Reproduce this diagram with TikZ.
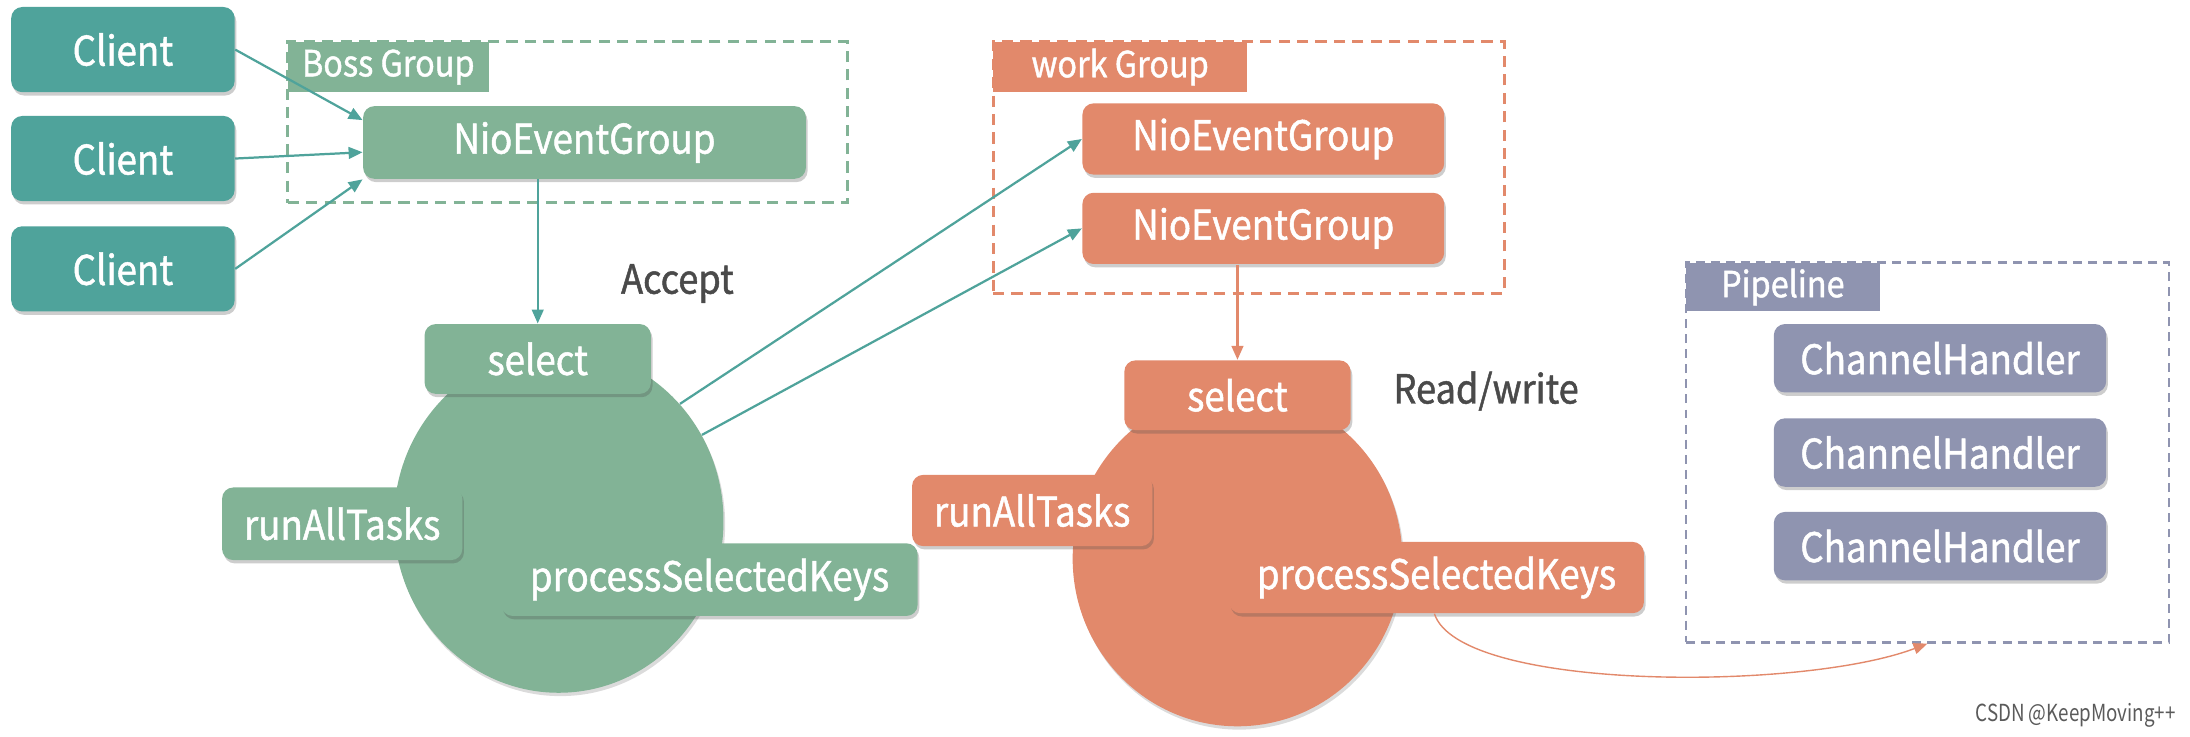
\documentclass[tikz,border=0pt]{standalone}
\usepackage{fontspec}
\setmainfont{Noto Sans CJK SC}[FakeStretch=0.9,FakeBold=1.2]
\newfontfamily\wmfont{Noto Sans CJK SC}[FakeStretch=0.8]
\usetikzlibrary{shapes.geometric,shadows,arrows.meta,calc}
\definecolor{teal1}{HTML}{4FA39B}
\definecolor{green1}{HTML}{82B396}
\definecolor{orange1}{HTML}{E2896B}
\definecolor{purple1}{HTML}{8F94B0}
\definecolor{txtgray}{HTML}{4A4A4A}
\definecolor{wmgray}{HTML}{5A5A5A}
\tikzset{
  box/.style={rounded corners=4pt, text=white, font=\fontsize{14.6}{17}\selectfont, inner sep=0pt,
    drop shadow={shadow xshift=0.6pt, shadow yshift=-1.2pt, opacity=0.28, fill=black!70}},
  tabbox/.style={text=white, font=\fontsize{12.9}{15}\selectfont, inner sep=0pt},
  grp/.style={dash pattern=on 4pt off 2.6pt, line width=1.1pt, inner sep=0pt},
  ell/.style={ellipse, inner sep=0pt, draw=none,
    drop shadow={shadow xshift=0.6pt, shadow yshift=-1.2pt, opacity=0.2, fill=black!70}},
  lbl/.style={text=txtgray, font=\fontsize{14.4}{17}\selectfont, inner sep=0pt},
  conn/.style={draw=teal1, line width=0.8pt, -{Triangle[length=5pt,width=4.2pt]}},
  oconn/.style={draw=orange1, line width=0.8pt, -{Triangle[length=5pt,width=4.2pt]}},
  cli/.style={box, fill=teal1, minimum width=80pt, minimum height=30.5pt},
  bg/.style={box, fill=green1},
  wg/.style={box, fill=orange1},
  hd/.style={box, fill=purple1, minimum width=119pt, minimum height=24.5pt}
}
\begin{document}
\begin{tikzpicture}[x=0.5pt,y=-0.5pt]
\useasboundingbox (0,0) rectangle (1568,527);
% ellipses (event loops)
\node[ell, fill=green1, minimum width=118pt, minimum height=123pt] (bell) at (400,373) {};
\node[ell, fill=orange1, minimum width=118pt, minimum height=120pt] (well) at (886,400) {};
% clients
\node[cli] (c1) at (88,35.5) {Client};
\node[cli] (c2) at (88,113.5) {Client};
\node[cli] (c3) at (88,192.5) {Client};
% boss group
\node[grp, draw=green1, minimum width=200.5pt, minimum height=57.5pt] (bossbox) at (406.5,87.5) {};
\node[tabbox, fill=green1, minimum width=72pt, minimum height=18pt] (bosstab) at (278,48) {Boss Group};
\node[bg, minimum width=158.5pt, minimum height=26pt] (bneg) at (418.5,102) {NioEventGroup};
\node[bg, minimum width=81pt, minimum height=25pt] (bsel) at (385,257) {select};
\node[bg, minimum width=86pt, minimum height=26pt] (brun) at (245,375) {runAllTasks};
\node[bg, minimum width=149pt, minimum height=26pt] (bpsk) at (508,415) {processSelectedKeys};
\node[lbl] (acc) at (485,203) {Accept};
% work group
\node[grp, draw=orange1, minimum width=183pt, minimum height=90pt] (workbox) at (894,120) {};
\node[tabbox, fill=orange1, minimum width=91pt, minimum height=18pt] (worktab) at (802,48) {work Group};
\node[wg, minimum width=129.5pt, minimum height=25.5pt] (wneg1) at (904.5,99.5) {NioEventGroup};
\node[wg, minimum width=129.5pt, minimum height=25.5pt] (wneg2) at (904.5,163.5) {NioEventGroup};
\node[wg, minimum width=81pt, minimum height=25pt] (wsel) at (886,283) {select};
\node[wg, minimum width=86pt, minimum height=25.5pt] (wrun) at (739,365.5) {runAllTasks};
\node[wg, minimum width=148.5pt, minimum height=25.5pt] (wpsk) at (1028.5,413.5) {processSelectedKeys};
\node[lbl] (rw) at (1064,280) {Read/write};
% pipeline
\node[grp, draw=purple1, line width=0.8pt, dash pattern=on 3.2pt off 2.2pt, minimum width=173pt, minimum height=136pt] (pipebox) at (1380,324) {};
\node[tabbox, fill=purple1, minimum width=69.5pt, minimum height=17.5pt] (pipetab) at (1276.5,205.5) {Pipeline};
\node[hd] (h1) at (1389,256.5) {ChannelHandler};
\node[hd] (h2) at (1389,324) {ChannelHandler};
\node[hd] (h3) at (1389,391) {ChannelHandler};
% watermark
\node[text=wmgray, font=\wmfont\fontsize{8.4}{10}\selectfont, inner sep=0pt] (wm) at (1486,512) {CSDN @KeepMoving++};
% connectors
\draw[conn] (c1.east) -- ($(bneg.west)+(0,-16)$);
\draw[conn] (c2.east) -- ($(bneg.west)+(0,7)$);
\draw[conn] (c3.east) -- (bneg.south west);
\draw[conn] (bsel.north |- bneg.south) -- (bsel.north);
\draw[conn] (bell.44.6) -- (wneg1.west);
\draw[conn] (bell.31.7) -- (wneg2.west);
\draw[oconn] (wsel.north |- wneg2.south) -- (wsel.north);
\draw[draw=orange1, line width=0.5pt, -{Triangle[length=5pt,width=4pt]}]
  ($(wpsk.south)+(-1.5,0)$) .. controls (1045,495) and (1290,495) .. (pipebox.south);
\end{tikzpicture}
\end{document}
